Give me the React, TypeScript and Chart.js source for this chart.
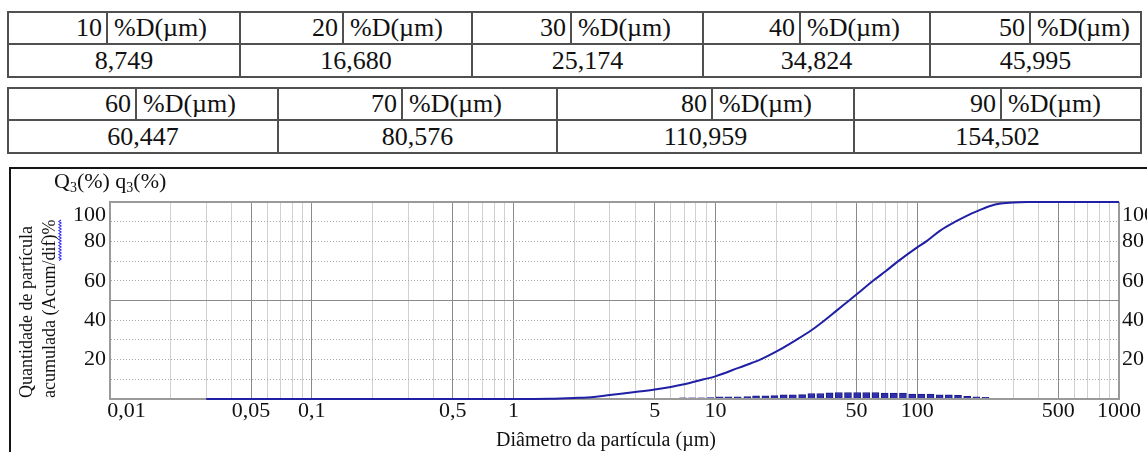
import React, { useEffect, useRef } from 'react';
import { Chart, registerables } from 'chart.js';

Chart.register(...registerables);

// ---------- data ----------
const table1Percents = [10, 20, 30, 40, 50];
const table1Values = ['8,749', '16,680', '25,174', '34,824', '45,995'];
const table2Percents = [60, 70, 80, 90];
const table2Values = ['60,447', '80,576', '110,959', '154,502'];

// cumulative curve Q3 (%)
const cumDiameters = [0.03, 0.1, 0.5, 1, 1.5, 2, 2.5, 3, 4, 5, 7, 8.749, 10, 13, 16.68, 20, 25.174, 30, 34.824, 40, 45.995, 50, 60.447, 70, 80.576, 100, 110.959, 130, 154.502, 180, 200, 230, 260, 300, 350, 1000];
const cumPassing = [0, 0, 0, 0, 0.1, 0.5, 1, 2, 3.5, 4.8, 7.5, 10, 11.5, 15.8, 20, 24, 30, 35, 40, 45, 50, 53, 60, 65, 70, 77, 80, 85.5, 90, 93.5, 95.5, 98, 99.2, 99.8, 100, 100];

// differential q3 (%)
const freqDiameters = [6.9, 7.66, 8.5, 9.44, 10.5, 11.6, 12.9, 14.4, 15.9, 17.7, 19.6, 21.8, 24.2, 26.9, 29.9, 33.1, 36.8, 40.9, 45.4, 50.4, 55.9, 62.1, 69.0, 76.6, 85.0, 94.4, 104.8, 116.4, 129.2, 143.5, 159.3, 176.9, 196.4, 218.0];
const freqValues = [0.6, 0.6, 0.6, 0.7, 1.1, 1.1, 1.1, 1.2, 1.6, 1.6, 1.7, 2.1, 2.1, 2.2, 2.8, 2.8, 3.1, 3.3, 3.3, 3.3, 3.3, 3.3, 3.0, 3.0, 3.0, 2.5, 2.5, 2.5, 2.1, 2.1, 1.8, 1.3, 1.1, 0.8];

const xTickValues = [0.01, 0.02, 0.03, 0.04, 0.05, 0.06, 0.07, 0.08, 0.09, 0.1, 0.2, 0.3, 0.4, 0.5, 0.6, 0.7, 0.8, 0.9, 1, 2, 3, 4, 5, 6, 7, 8, 9, 10, 20, 30, 40, 50, 60, 70, 80, 90, 100, 200, 300, 400, 500, 600, 700, 800, 900, 1000];
const xLabeledValues = [0.01, 0.05, 0.1, 0.5, 1, 5, 10, 50, 100, 500, 1000];
const xLabels = ['      0,01', '0,05', '0,1', '0,5', '1', '5', '10', '50', '100', '500', '1000'];
const yTickValues = [0, 10, 20, 30, 40, 50, 60, 70, 80, 90, 100];
const yLabeledValues = [20, 40, 60, 80, 100];

const yTitleLine1 = 'Quantidade de partícula';
const yTitleLine2 = 'acumulada (Acum/dif)%';
const yTitleUnderlined = 'dif)%';
const xTitle = 'Diâmetro da partícula (µm)';
const FONT = '"Liberation Serif", "Times New Roman", serif';

// ---------- helpers ----------
const significand = (v: number) => {
  const e = Math.floor(Math.log10(v) + 1e-9);
  return Math.round(v / Math.pow(10, e));
};
const xLabelFor = (v: number) => {
  const i = xLabeledValues.findIndex((lv) => Math.abs(v - lv) / lv < 1e-6);
  return i >= 0 ? xLabels[i] : '';
};
const yLabelFor = (v: number) => {
  if (!yLabeledValues.includes(v)) return '';
  return v === 100 ? ['', '100'] : String(v);
};

const decorPlugin = {
  id: 'decor',
  afterDraw(chart: any) {
    const ctx: CanvasRenderingContext2D = chart.ctx;
    ctx.save();
    // frame box
    ctx.strokeStyle = '#151515';
    ctx.lineWidth = 2;
    ctx.beginPath();
    ctx.moveTo(10, 300);
    ctx.lineTo(10, 8);
    ctx.lineTo(1160, 8);
    ctx.stroke();

    // Q3(%) q3(%)
    ctx.fillStyle = '#111';
    ctx.textAlign = 'left';
    ctx.textBaseline = 'alphabetic';
    const parts: [string, number, number][] = [
      ['Q', 22, 0], ['3', 14, 4], ['(%) q', 22, 0], ['3', 14, 4], ['(%)', 22, 0],
    ];
    let x = 54;
    for (const [t, s, dy] of parts) {
      ctx.font = `${s}px ${FONT}`;
      ctx.fillText(t, x, 28 + dy);
      x += ctx.measureText(t).width;
    }

    // y title (rotated)
    ctx.font = `18px ${FONT}`;
    ctx.textBaseline = 'middle';
    ctx.save();
    ctx.translate(27, 238);
    ctx.rotate(-Math.PI / 2);
    ctx.fillText(yTitleLine1, 0, 0);
    ctx.restore();
    ctx.save();
    ctx.translate(50, 238);
    ctx.rotate(-Math.PI / 2);
    ctx.fillText(yTitleLine2, 0, 0);
    const full = ctx.measureText(yTitleLine2).width;
    const pre = ctx.measureText(yTitleLine2.slice(0, yTitleLine2.length - yTitleUnderlined.length)).width;
    ctx.strokeStyle = '#2b2bff';
    ctx.lineWidth = 1.2;
    ctx.beginPath();
    let k = 0;
    for (let u = pre; u <= full; u += 1.5, k++) {
      const v = 10 + (k % 2 === 0 ? -1 : 1);
      if (k === 0) ctx.moveTo(u, v); else ctx.lineTo(u, v);
    }
    ctx.stroke();
    ctx.restore();

    // x title
    ctx.font = `20px ${FONT}`;
    ctx.textAlign = 'center';
    ctx.textBaseline = 'middle';
    ctx.fillText(xTitle, 606, 281);
    ctx.restore();
  },
};

// ---------- tables ----------
type TableProps = {
  top: number; mid: number; bottom: number;
  groups: number[]; inners: number[];
  percents: number[]; values: string[];
};

function DTable({ top, mid, bottom, groups, inners, percents, values }: TableProps) {
  const col = '#505050';
  const lw = 2;
  const L = groups[0];
  const R = groups[groups.length - 1];
  const txt: React.CSSProperties = {
    position: 'absolute', font: `26px ${FONT}`, color: '#111', whiteSpace: 'nowrap',
  };
  const els: React.ReactNode[] = [];
  [top, mid, bottom].forEach((y, i) =>
    els.push(<div key={'h' + i} style={{ position: 'absolute', left: L - 1, top: y - 1, width: R - L + 2, height: lw, background: col }} />)
  );
  groups.forEach((gx, i) =>
    els.push(<div key={'v' + i} style={{ position: 'absolute', left: gx - 1, top: top - 1, width: lw, height: bottom - top + 2, background: col }} />)
  );
  inners.forEach((ix, i) =>
    els.push(<div key={'i' + i} style={{ position: 'absolute', left: ix - 1, top: top - 1, width: lw, height: mid - top + 2, background: col }} />)
  );
  percents.forEach((p, i) => {
    const g0 = groups[i];
    const g1 = groups[i + 1];
    const ix = inners[i];
    els.push(
      <div key={'n' + i} style={{ ...txt, left: g0, width: ix - 5 - g0, top, height: mid - top, lineHeight: `${mid - top}px`, textAlign: 'right' }}>{p}</div>
    );
    els.push(
      <div key={'l' + i} style={{ ...txt, left: ix + 7, top, height: mid - top, lineHeight: `${mid - top}px`, textAlign: 'left' }}>%D(µm)</div>
    );
    els.push(
      <div key={'val' + i} style={{ ...txt, left: g0, width: g1 - g0, top: mid, height: bottom - mid, lineHeight: `${bottom - mid}px`, textAlign: 'center' }}>{values[i]}</div>
    );
  });
  return <>{els}</>;
}

export default function App() {
  const ref = useRef<HTMLCanvasElement>(null);

  useEffect(() => {
    const tickFont = { family: FONT, size: 22 };
    const chart = new Chart(ref.current as HTMLCanvasElement, {
      type: 'line',
      data: {
        datasets: [
          {
            type: 'line',
            label: 'Q3',
            data: cumDiameters.map((d, i) => ({ x: d, y: cumPassing[i] })),
            borderColor: '#2020a6',
            borderWidth: 2,
            pointRadius: 0,
            cubicInterpolationMode: 'monotone',
            clip: 4,
            order: 0,
            yAxisID: 'y',
          } as any,
          {
            type: 'bar',
            label: 'q3',
            data: freqDiameters.map((d, i) => ({ x: d, y: freqValues[i] })),
            backgroundColor: (c: any) => (c.raw && c.raw.y < 1 ? 'rgba(90,90,200,0.8)' : '#2f2fae'),
            borderColor: '#1a1a88',
            borderWidth: 1,
            barThickness: 7,
            order: 1,
            yAxisID: 'y',
          } as any,
        ],
      },
      options: {
        animation: false,
        responsive: false,
        maintainAspectRatio: false,
        layout: { padding: { top: 42, left: 0, right: 0, bottom: 0 } },
        plugins: { legend: { display: false }, tooltip: { enabled: false } },
        scales: {
          x: {
            type: 'logarithmic',
            min: 0.01,
            max: 1000,
            offset: false,
            afterBuildTicks: (s: any) => { s.ticks = xTickValues.map((v) => ({ value: v })); },
            afterFit: (s: any) => { s.height = 53; },
            grid: {
              offset: false,
              drawTicks: false,
              color: (c: any) => {
                const v = c.tick?.value;
                if (v == null) return '#999';
                if (v <= 0.0100001 || v >= 999.9) return '#9a9a9a';
                const s = significand(v);
                return s === 1 || s === 5 ? '#8a8a8a' : '#d0d0d0';
              },
              lineWidth: (c: any) => {
                const v = c.tick?.value;
                if (v != null && (v <= 0.0100001 || v >= 999.9)) return 2;
                return 1;
              },
            },
            border: { display: true, color: '#9a9a9a', width: 2, dash: [] },
            ticks: {
              autoSkip: false, maxRotation: 0, minRotation: 0, padding: -1,
              color: '#111', font: tickFont,
              callback: (v: any) => xLabelFor(Number(v)),
            },
          } as any,
          y: {
            type: 'linear',
            position: 'left',
            min: 0,
            max: 100,
            afterBuildTicks: (s: any) => { s.ticks = yTickValues.map((v) => ({ value: v })); },
            afterFit: (s: any) => { s.width = 110; },
            grid: {
              drawTicks: false,
              color: (c: any) => {
                const v = c.tick?.value;
                if (v === 50) return '#8a8a8a';
                if (v === 0 || v === 100) return '#9a9a9a';
                return '#a6a6a6';
              },
              lineWidth: (c: any) => {
                const v = c.tick?.value;
                return v === 0 || v === 100 ? 2 : 1;
              },
            },
            border: {
              display: true, color: '#9a9a9a', width: 2,
              dash: (c: any) => {
                const v = c.tick?.value;
                if (v == null || v === 0 || v === 50 || v === 100) return [];
                return [1, 2];
              },
            },
            ticks: {
              autoSkip: false,
              padding: 4, color: '#111', font: tickFont,
              callback: (v: any) => yLabelFor(Number(v)),
            },
          } as any,
          y2: {
            type: 'linear',
            position: 'right',
            min: 0,
            max: 100,
            afterBuildTicks: (s: any) => { s.ticks = yTickValues.map((v) => ({ value: v })); },
            afterFit: (s: any) => { s.width = 28; },
            grid: { display: false, drawTicks: false },
            border: { display: false },
            ticks: {
              autoSkip: false,
              padding: 3, color: '#111', font: tickFont,
              callback: (v: any) => yLabelFor(Number(v)),
            },
          } as any,
        },
      },
      plugins: [decorPlugin as any],
    });
    return () => chart.destroy();
  }, []);

  return (
    <div style={{ position: 'absolute', left: 0, top: 0, width: 1147, height: 452, overflow: 'hidden', background: '#fff' }}>
      <DTable
        top={12} mid={44} bottom={77}
        groups={[8, 240, 472, 703, 930, 1141]}
        inners={[107, 343, 571, 800, 1030]}
        percents={table1Percents} values={table1Values}
      />
      <DTable
        top={88} mid={120} bottom={153}
        groups={[8, 278, 557, 854, 1141]}
        inners={[136, 402, 712, 1001]}
        percents={table2Percents} values={table2Values}
      />
      <canvas
        ref={ref}
        width={1147}
        height={292}
        style={{ position: 'absolute', left: 0, top: 160, width: 1147, height: 292, display: 'block' }}
      />
    </div>
  );
}
